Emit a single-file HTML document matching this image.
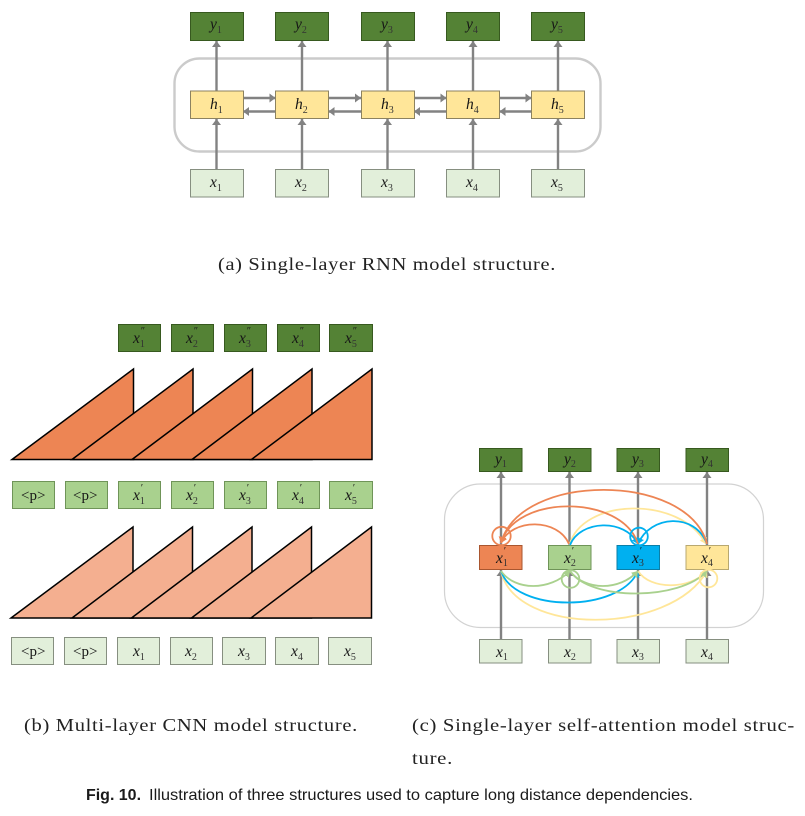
<!DOCTYPE html>
<html><head><meta charset="utf-8">
<style>
html,body{margin:0;padding:0;background:#fff;width:805px;height:816px;overflow:hidden}
svg{display:block}
.m{font:italic 15.5px "Liberation Serif",serif;fill:#161616}
.s{font:normal 10px "Liberation Serif",serif;fill:#333}
.p{font:normal 10px "Liberation Serif",serif}
.t{font:15px "Liberation Serif",serif;fill:#161616}
.c{font:18px "Liberation Serif",serif;fill:#222;letter-spacing:.6px}
.f{font:16px "Liberation Sans",sans-serif;fill:#1a1a1a}
.dg rect,rect.dg{fill:#548235;stroke:#37591f;stroke-width:1}
.yl rect{fill:#FFE699;stroke:#8c8260;stroke-width:1}
.lg rect{fill:#E2EFDA;stroke:#868f80;stroke-width:1}
.mg rect{fill:#A9D18E;stroke:#6f9458;stroke-width:1}
.g line{stroke:#828282;stroke-width:2.4}
.a path,.a circle{fill:none;stroke-width:1.8}
</style></head><body>
<svg width="805" height="816" viewBox="0 0 805 816" xmlns="http://www.w3.org/2000/svg">
<defs>
<marker id="ar" markerUnits="userSpaceOnUse" markerWidth="10" markerHeight="10" refX="6" refY="5" orient="auto"><path d="M0 .5L6 5L0 9.500Z" fill="#828282"/></marker>
<marker id="mo" markerUnits="userSpaceOnUse" markerWidth="8" markerHeight="8" refX="6" refY="4" orient="auto"><path d="M0 0L6 4L0 8Z" fill="#ED8554"/></marker>
<marker id="mb" markerUnits="userSpaceOnUse" markerWidth="8" markerHeight="8" refX="6" refY="4" orient="auto"><path d="M0 0L6 4L0 8Z" fill="#00B0F0"/></marker>
<marker id="mg" markerUnits="userSpaceOnUse" markerWidth="8" markerHeight="8" refX="6" refY="4" orient="auto"><path d="M0 0L6 4L0 8Z" fill="#A9D18E"/></marker>
<marker id="my" markerUnits="userSpaceOnUse" markerWidth="8" markerHeight="8" refX="6" refY="4" orient="auto"><path d="M0 0L6 4L0 8Z" fill="#FFE699"/></marker>
</defs>

<!-- (a) RNN -->
<rect x="174.5" y="58.5" width="426" height="93" rx="25" fill="none" stroke="#cbcbcb" stroke-width="2.4"/>
<g class="g">
<line x1="216.5" y1="91" x2="216.5" y2="41" marker-end="url(#ar)"/>
<line x1="302" y1="91" x2="302" y2="41" marker-end="url(#ar)"/>
<line x1="387.5" y1="91" x2="387.5" y2="41" marker-end="url(#ar)"/>
<line x1="473" y1="91" x2="473" y2="41" marker-end="url(#ar)"/>
<line x1="558" y1="91" x2="558" y2="41" marker-end="url(#ar)"/>
<line x1="216.5" y1="170" x2="216.5" y2="119" marker-end="url(#ar)"/>
<line x1="302" y1="170" x2="302" y2="119" marker-end="url(#ar)"/>
<line x1="387.5" y1="170" x2="387.5" y2="119" marker-end="url(#ar)"/>
<line x1="473" y1="170" x2="473" y2="119" marker-end="url(#ar)"/>
<line x1="558" y1="170" x2="558" y2="119" marker-end="url(#ar)"/>
<line x1="243" y1="98" x2="275.5" y2="98" marker-end="url(#ar)"/>
<line x1="275.5" y1="111.5" x2="243" y2="111.5" marker-end="url(#ar)"/>
<line x1="328.5" y1="98" x2="361" y2="98" marker-end="url(#ar)"/>
<line x1="361" y1="111.5" x2="328.5" y2="111.5" marker-end="url(#ar)"/>
<line x1="414" y1="98" x2="446.5" y2="98" marker-end="url(#ar)"/>
<line x1="446.5" y1="111.5" x2="414" y2="111.5" marker-end="url(#ar)"/>
<line x1="499.5" y1="98" x2="531.5" y2="98" marker-end="url(#ar)"/>
<line x1="531.5" y1="111.5" x2="499.5" y2="111.5" marker-end="url(#ar)"/>
</g>
<g class="dg">
<rect x="190.5" y="12.5" width="53" height="28"/><rect x="275.5" y="12.5" width="53" height="28"/><rect x="361.5" y="12.5" width="53" height="28"/><rect x="446.5" y="12.5" width="53" height="28"/><rect x="531.5" y="12.5" width="53" height="28"/>
</g>
<g class="yl">
<rect x="190.5" y="91" width="53" height="27.5"/><rect x="275.5" y="91" width="53" height="27.5"/><rect x="361.5" y="91" width="53" height="27.5"/><rect x="446.5" y="91" width="53" height="27.5"/><rect x="531.5" y="91" width="53" height="27.5"/>
</g>
<g class="lg">
<rect x="190.5" y="169.5" width="53" height="27.5"/><rect x="275.5" y="169.5" width="53" height="27.5"/><rect x="361.5" y="169.5" width="53" height="27.5"/><rect x="446.5" y="169.5" width="53" height="27.5"/><rect x="531.5" y="169.5" width="53" height="27.5"/>
</g>
<text class="m" x="210" y="29">y<tspan class="s" dy="4">1</tspan></text>
<text class="m" x="295" y="29">y<tspan class="s" dy="4">2</tspan></text>
<text class="m" x="381" y="29">y<tspan class="s" dy="4">3</tspan></text>
<text class="m" x="466" y="29">y<tspan class="s" dy="4">4</tspan></text>
<text class="m" x="551" y="29">y<tspan class="s" dy="4">5</tspan></text>
<text class="m" x="210" y="109">h<tspan class="s" dy="4">1</tspan></text>
<text class="m" x="295" y="109">h<tspan class="s" dy="4">2</tspan></text>
<text class="m" x="381" y="109">h<tspan class="s" dy="4">3</tspan></text>
<text class="m" x="466" y="109">h<tspan class="s" dy="4">4</tspan></text>
<text class="m" x="551" y="109">h<tspan class="s" dy="4">5</tspan></text>
<text class="m" x="210" y="187">x<tspan class="s" dy="4">1</tspan></text>
<text class="m" x="295" y="187">x<tspan class="s" dy="4">2</tspan></text>
<text class="m" x="381" y="187">x<tspan class="s" dy="4">3</tspan></text>
<text class="m" x="466" y="187">x<tspan class="s" dy="4">4</tspan></text>
<text class="m" x="551" y="187">x<tspan class="s" dy="4">5</tspan></text>

<text class="c" x="218" y="270" textLength="338" lengthAdjust="spacingAndGlyphs">(a) Single-layer RNN model structure.</text>

<!-- (b) CNN -->
<g class="dg">
<rect x="118.5" y="324.5" width="42" height="27"/><rect x="171.5" y="324.5" width="42" height="27"/><rect x="224.5" y="324.5" width="42" height="27"/><rect x="277.5" y="324.5" width="42" height="27"/><rect x="329.5" y="324.5" width="43" height="27"/>
</g>
<g fill="#ED8554" stroke="#000" stroke-width="1.5" stroke-linejoin="miter">
<path d="M12 459.5L133.5 369V459.5Z"/>
<path d="M72 459.5L193 369V459.5Z"/>
<path d="M132 459.5L252.5 369V459.5Z"/>
<path d="M192 459.5L312 369V459.5Z"/>
<path d="M251.5 459.5L372 369V459.5Z"/>
</g>
<g class="mg">
<rect x="12.5" y="481.5" width="42" height="27"/><rect x="65.5" y="481.5" width="42" height="27"/><rect x="118.5" y="481.5" width="42" height="27"/><rect x="171.5" y="481.5" width="42" height="27"/><rect x="224.5" y="481.5" width="42" height="27"/><rect x="277.5" y="481.5" width="42" height="27"/><rect x="329.5" y="481.5" width="43" height="27"/>
</g>
<g fill="#F4AF90" stroke="#000" stroke-width="1.5">
<path d="M11 618L133 527V618Z"/>
<path d="M72 618L192.500 527V618Z"/>
<path d="M131.500 618L252 527V618Z"/>
<path d="M191.500 618L311.500 527V618Z"/>
<path d="M251 618L371.500 527V618Z"/>
</g>
<g class="lg">
<rect x="11.500" y="637.500" width="42" height="27"/><rect x="64.500" y="637.500" width="42" height="27"/><rect x="117.500" y="637.500" width="42" height="27"/><rect x="170.500" y="637.500" width="42" height="27"/><rect x="222.500" y="637.500" width="43" height="27"/><rect x="275.500" y="637.500" width="43" height="27"/><rect x="328.500" y="637.500" width="43" height="27"/>
</g>
<text class="m" x="133" y="343">x<tspan class="s" dy="4">1</tspan><tspan class="p" dx="-4" dy="-13">″</tspan></text>
<text class="m" x="186" y="343">x<tspan class="s" dy="4">2</tspan><tspan class="p" dx="-4" dy="-13">″</tspan></text>
<text class="m" x="239" y="343">x<tspan class="s" dy="4">3</tspan><tspan class="p" dx="-4" dy="-13">″</tspan></text>
<text class="m" x="292" y="343">x<tspan class="s" dy="4">4</tspan><tspan class="p" dx="-4" dy="-13">″</tspan></text>
<text class="m" x="345" y="343">x<tspan class="s" dy="4">5</tspan><tspan class="p" dx="-4" dy="-13">″</tspan></text>
<text class="t" x="21" y="500">&lt;p&gt;</text>
<text class="t" x="73" y="500">&lt;p&gt;</text>
<text class="m" x="133" y="500">x<tspan class="s" dy="4">1</tspan><tspan class="p" dx="-4" dy="-13">′</tspan></text>
<text class="m" x="186" y="500">x<tspan class="s" dy="4">2</tspan><tspan class="p" dx="-4" dy="-13">′</tspan></text>
<text class="m" x="239" y="500">x<tspan class="s" dy="4">3</tspan><tspan class="p" dx="-4" dy="-13">′</tspan></text>
<text class="m" x="292" y="500">x<tspan class="s" dy="4">4</tspan><tspan class="p" dx="-4" dy="-13">′</tspan></text>
<text class="m" x="345" y="500">x<tspan class="s" dy="4">5</tspan><tspan class="p" dx="-4" dy="-13">′</tspan></text>
<text class="t" x="21" y="656">&lt;p&gt;</text>
<text class="t" x="73" y="656">&lt;p&gt;</text>
<text class="m" x="133" y="656">x<tspan class="s" dy="4">1</tspan></text>
<text class="m" x="185" y="656">x<tspan class="s" dy="4">2</tspan></text>
<text class="m" x="238" y="656">x<tspan class="s" dy="4">3</tspan></text>
<text class="m" x="291" y="656">x<tspan class="s" dy="4">4</tspan></text>
<text class="m" x="344" y="656">x<tspan class="s" dy="4">5</tspan></text>

<text class="c" x="24" y="731" textLength="334" lengthAdjust="spacingAndGlyphs">(b) Multi-layer CNN model structure.</text>

<!-- (c) attention -->
<rect x="444.5" y="484" width="319" height="143.500" rx="36" fill="none" stroke="#d2d2d2" stroke-width="1.2"/>
<g class="g">
<line x1="501" y1="545" x2="501" y2="472" marker-end="url(#ar)"/>
<line x1="569.500" y1="545" x2="569.500" y2="472" marker-end="url(#ar)"/>
<line x1="638" y1="545" x2="638" y2="472" marker-end="url(#ar)"/>
<line x1="707" y1="545" x2="707" y2="472" marker-end="url(#ar)"/>
<line x1="501" y1="640" x2="501" y2="570" marker-end="url(#ar)"/>
<line x1="569.500" y1="640" x2="569.500" y2="570" marker-end="url(#ar)"/>
<line x1="638" y1="640" x2="638" y2="570" marker-end="url(#ar)"/>
<line x1="707" y1="640" x2="707" y2="570" marker-end="url(#ar)"/>
</g>
<g class="dg">
<rect x="479.500" y="448.500" width="42.500" height="23"/><rect x="548.500" y="448.500" width="42.500" height="23"/><rect x="617" y="448.500" width="42.500" height="23"/><rect x="686" y="448.500" width="42.500" height="23"/>
</g>
<rect x="479.500" y="545.500" width="42.500" height="24" fill="#ED8554" stroke="#a9562f"/>
<rect x="548.500" y="545.500" width="42.500" height="24" fill="#A9D18E" stroke="#6f9458"/>
<rect x="617" y="545.500" width="42.500" height="24" fill="#00B0F0" stroke="#0b7fa8"/>
<rect x="686" y="545.500" width="42.500" height="24" fill="#FFE699" stroke="#b8a870"/>
<g class="lg">
<rect x="479.500" y="639.500" width="42.500" height="23.500"/><rect x="548.500" y="639.500" width="42.500" height="23.500"/><rect x="617" y="639.500" width="42.500" height="23.500"/><rect x="686" y="639.500" width="42.500" height="23.500"/>
</g>
<g class="a">
<!-- yellow top -->
<path d="M569.500 545C582 498 680 495 706 544" stroke="#FFE699" marker-end="url(#my)"/>
<!-- blue top -->
<path d="M570 545C580 520 625 518 638 544" stroke="#00B0F0" marker-end="url(#mb)"/>
<path d="M707 544C695 512 650 515 638 544" stroke="#00B0F0" marker-end="url(#mb)"/>
<!-- orange top -->
<path d="M707 544C688 472 520 472 501 543" stroke="#ED8554" marker-end="url(#mo)"/>
<path d="M638 544C622 494 515 494 501 543" stroke="#ED8554" marker-end="url(#mo)"/>
<path d="M569 544C558 518 512 518 501 543" stroke="#ED8554" marker-end="url(#mo)"/>
<circle cx="501.500" cy="536" r="9.200" stroke="#ED8554"/>
<circle cx="639" cy="536.500" r="8.800" stroke="#00B0F0"/>
<!-- bottom arcs -->
<path d="M501 571C515 636 670 636 707 571" stroke="#FFE699" marker-end="url(#my)"/>
<path d="M501 571C515 613 620 613 638 571" stroke="#00B0F0" marker-end="url(#mb)"/>
<path d="M638 571C650 590 690 590 707 571" stroke="#FFE699" marker-end="url(#my)"/>
<path d="M501 571C515 591 550 591 570 571" stroke="#A9D18E" marker-end="url(#mg)"/>
<path d="M570 571C585 591 620 591 638 571" stroke="#A9D18E" marker-end="url(#mg)"/>
<path d="M570 571C590 601 680 601 707 571" stroke="#A9D18E" marker-end="url(#mg)"/>
<circle cx="570.500" cy="579" r="8.800" stroke="#A9D18E"/>
<circle cx="708.500" cy="578.500" r="8.800" stroke="#FFE699"/>
</g>
<text class="m" x="495" y="464">y<tspan class="s" dy="3">1</tspan></text>
<text class="m" x="564" y="464">y<tspan class="s" dy="3">2</tspan></text>
<text class="m" x="632" y="464">y<tspan class="s" dy="3">3</tspan></text>
<text class="m" x="701" y="464">y<tspan class="s" dy="3">4</tspan></text>
<text class="m" x="496" y="563">x<tspan class="s" dy="3">1</tspan><tspan class="p" dx="-4" dy="-12">′</tspan></text>
<text class="m" x="564" y="563">x<tspan class="s" dy="3">2</tspan><tspan class="p" dx="-4" dy="-12">′</tspan></text>
<text class="m" x="632" y="563">x<tspan class="s" dy="3">3</tspan><tspan class="p" dx="-4" dy="-12">′</tspan></text>
<text class="m" x="701" y="563">x<tspan class="s" dy="3">4</tspan><tspan class="p" dx="-4" dy="-12">′</tspan></text>
<text class="m" x="496" y="657">x<tspan class="s" dy="3">1</tspan></text>
<text class="m" x="564" y="657">x<tspan class="s" dy="3">2</tspan></text>
<text class="m" x="632" y="657">x<tspan class="s" dy="3">3</tspan></text>
<text class="m" x="701" y="657">x<tspan class="s" dy="3">4</tspan></text>

<text class="c" x="412" y="731" textLength="383" lengthAdjust="spacingAndGlyphs">(c) Single-layer self-attention model struc-</text>
<text class="c" x="412" y="764" textLength="41" lengthAdjust="spacingAndGlyphs">ture.</text>

<text class="f" x="86" y="800" textLength="55" style="font-weight:bold" lengthAdjust="spacingAndGlyphs">Fig. 10.</text>
<text class="f" x="149" y="800" textLength="544" lengthAdjust="spacingAndGlyphs">Illustration of three structures used to capture long distance dependencies.</text>
</svg>
</body></html>
